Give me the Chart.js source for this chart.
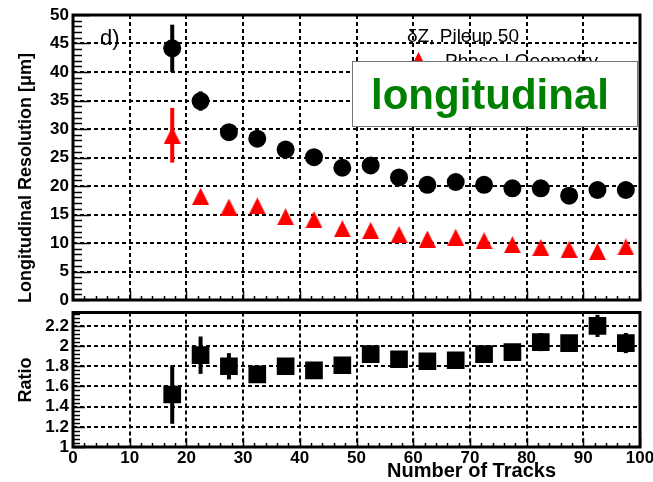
<!DOCTYPE html>
<html>
<head>
<meta charset="utf-8">
<script src="https://cdn.jsdelivr.net/npm/chart.js@4.4.0/dist/chart.umd.min.js"></script>
<style>
  html, body { margin: 0; padding: 0; background: #fff; }
  #wrap { position: relative; width: 653px; height: 482px; overflow: hidden; }
  canvas { position: absolute; left: 0; }
  #topChart { top: 0; }
  #ratioChart { top: 300px; }
</style>
</head>
<body>
<div id="wrap">
  <canvas id="topChart" width="653" height="310"></canvas>
  <canvas id="ratioChart" width="653" height="182"></canvas>
</div>
<script>
// bin centres (number of tracks)
const tracks = [17.5, 22.5, 27.5, 32.5, 37.5, 42.5, 47.5, 52.5, 57.5, 62.5, 67.5, 72.5, 77.5, 82.5, 87.5, 92.5, 97.5];

// dZ resolution, pileup 50 (black circles)
const resPileup50 = [44.15, 34.9, 29.45, 28.3, 26.4, 25.05, 23.2, 23.6, 21.5, 20.2, 20.7, 20.2, 19.6, 19.6, 18.3, 19.3, 19.3];
const resPileup50Err = [4.15, 1.7, 0.5, 0.5, 0.4, 0.4, 0.4, 0.4, 0.3, 0.3, 0.3, 0.3, 0.3, 0.3, 0.3, 0.3, 0.3];

// Phase I geometry (red triangles)
const resPhase1 = [28.9, 18.2, 16.3, 16.5, 14.6, 14.1, 12.5, 12.2, 11.5, 10.7, 11.0, 10.4, 9.7, 9.2, 8.9, 8.5, 9.3];
const resPhase1Err = [4.8, 0.4, 0.3, 0.3, 0.3, 0.3, 0.2, 0.2, 0.2, 0.2, 0.2, 0.2, 0.2, 0.2, 0.2, 0.2, 0.2];

// ratio (black squares)
const ratio = [1.52, 1.91, 1.80, 1.72, 1.80, 1.76, 1.81, 1.92, 1.87, 1.85, 1.86, 1.92, 1.94, 2.04, 2.03, 2.20, 2.03];
const ratioErr = [0.29, 0.185, 0.13, 0.05, 0.04, 0.04, 0.04, 0.04, 0.04, 0.04, 0.04, 0.05, 0.05, 0.09, 0.08, 0.11, 0.10];

// axes
const trackTicks = [0, 10, 20, 30, 40, 50, 60, 70, 80, 90, 100];
const resTicks = [0, 5, 10, 15, 20, 25, 30, 35, 40, 45, 50];
const ratioTicks = [1, 1.2, 1.4, 1.6, 1.8, 2, 2.2];
const ratioMax = 2.333;

const FONT = '"Liberation Sans", Arial, sans-serif';

// red triangle marker, centred on its bounding box like ROOT's
function triangleMarker(w, h, color) {
  const c = document.createElement('canvas');
  c.width = w; c.height = h;
  const g = c.getContext('2d');
  g.fillStyle = color;
  g.beginPath();
  g.moveTo(w / 2, 0);
  g.lineTo(w, h);
  g.lineTo(0, h);
  g.closePath();
  g.fill();
  return c;
}

function pts(vals) {
  return tracks.map((t, i) => ({ x: t, y: vals[i] }));
}

function fixSize(prop, size) {
  return scale => {
    scale[prop] = size;
    scale.paddingTop = 0; scale.paddingBottom = 0;
    scale.paddingLeft = 0; scale.paddingRight = 0;
  };
}

function setTicks(list) {
  return scale => { scale.ticks = list.map(v => ({ value: v })); };
}

// error bars, frame and minor ticks
const framePlugin = {
  id: 'frame',
  beforeDatasetsDraw(chart, args, opts) {
    const { ctx, scales: { x, y } } = chart;
    ctx.save();
    ctx.lineWidth = 4;
    opts.bars.forEach(b => {
      ctx.strokeStyle = b.color;
      tracks.forEach((t, i) => {
        const px = x.getPixelForValue(t);
        ctx.beginPath();
        ctx.moveTo(px, y.getPixelForValue(b.vals[i] - b.err[i]));
        ctx.lineTo(px, y.getPixelForValue(b.vals[i] + b.err[i]));
        ctx.stroke();
      });
    });
    ctx.restore();
  },
  afterDraw(chart, args, opts) {
    const { ctx, chartArea: a, scales: { x, y } } = chart;
    ctx.save();
    ctx.strokeStyle = '#000';
    ctx.lineWidth = 1.5;
    // y ticks on the left axis
    const ny = Math.round((y.max - y.min) / opts.yStep);
    for (let k = 0; k <= ny; k++) {
      const py = Math.round(y.getPixelForValue(y.min + k * opts.yStep)) + 0.5;
      const len = k % opts.yEvery === 0 ? opts.yMajor : opts.yMinor;
      ctx.beginPath();
      ctx.moveTo(a.left, py);
      ctx.lineTo(a.left + len, py);
      ctx.stroke();
    }
    // x ticks on the bottom axis
    for (let k = 0; k <= 50; k++) {
      const px = Math.round(x.getPixelForValue(k * 2)) + 0.5;
      const len = k % 5 === 0 ? 9 : 4;
      ctx.beginPath();
      ctx.moveTo(px, a.bottom);
      ctx.lineTo(px, a.bottom - len);
      ctx.stroke();
    }
    ctx.lineWidth = 3;
    ctx.strokeRect(a.left, a.top, a.right - a.left, a.bottom - a.top);
    ctx.restore();
    if (opts.labels) opts.labels(ctx, a);
  }
};

function topLabels(ctx, a) {
  ctx.save();
  ctx.fillStyle = '#000';
  ctx.font = '22px ' + FONT;
  ctx.textBaseline = 'alphabetic';
  ctx.fillText('d)', 100, 45);

  ctx.font = '19px ' + FONT;
  ctx.fillText('\u03b4Z, Pileup 50', 407, 42);
  ctx.drawImage(triangleMarker(15, 15, '#ff0000'), 411, 52);
  ctx.fillText('Phase I Geometry', 445, 67);

  ctx.fillStyle = '#fff';
  ctx.fillRect(352, 61, 286, 66);
  ctx.strokeStyle = '#777';
  ctx.lineWidth = 1;
  ctx.strokeRect(352.5, 61.5, 285, 65);
  ctx.fillStyle = '#008000';
  ctx.font = 'bold 42px ' + FONT;
  ctx.textAlign = 'center';
  ctx.fillText('longitudinal', 490, 109);

  ctx.fillStyle = '#000';
  ctx.font = 'bold 18px ' + FONT;
  ctx.translate(31, 178);
  ctx.rotate(-Math.PI / 2);
  ctx.textBaseline = 'alphabetic';
  ctx.fillText('Longitudinal Resolution [\u03bcm]', 0, 0);
  ctx.restore();
}

function ratioLabels(ctx, a) {
  ctx.save();
  ctx.fillStyle = '#000';
  ctx.font = 'bold 18px ' + FONT;
  ctx.textAlign = 'center';
  ctx.translate(31, 80);
  ctx.rotate(-Math.PI / 2);
  ctx.fillText('Ratio', 0, 0);
  ctx.restore();
  ctx.save();
  ctx.fillStyle = '#000';
  ctx.font = 'bold 20px ' + FONT;
  ctx.textAlign = 'right';
  ctx.fillText('Number of Tracks', 556, 177);
  ctx.restore();
}

const gridOpts = { color: '#000', lineWidth: 2, drawTicks: false };
const borderOpts = { display: false, dash: [4, 3] };
const tickFont = { family: FONT, size: 17, weight: 'bold' };

new Chart('topChart', {
  type: 'scatter',
  data: {
    datasets: [{
      label: '\u03b4Z, Pileup 50',
      data: pts(resPileup50),
      pointStyle: 'circle',
      pointRadius: 9,
      pointBorderWidth: 0,
      backgroundColor: '#000'
    }, {
      label: 'Phase I Geometry',
      data: pts(resPhase1),
      pointStyle: triangleMarker(17, 17, '#ff0000'),
      pointRadius: 9,
      backgroundColor: '#ff0000'
    }]
  },
  options: {
    responsive: false,
    animation: false,
    events: [],
    layout: { padding: { left: 0, right: 13, top: 15, bottom: 2 } },
    plugins: {
      legend: { display: false },
      tooltip: { enabled: false },
      frame: {
        yStep: 1, yEvery: 5, yMajor: 17, yMinor: 9,
        bars: [
          { vals: resPileup50, err: resPileup50Err, color: '#000' },
          { vals: resPhase1, err: resPhase1Err, color: '#ff0000' }
        ],
        labels: topLabels
      }
    },
    scales: {
      x: {
        type: 'linear', min: 0, max: 100,
        grid: gridOpts, border: borderOpts,
        ticks: { display: false, autoSkip: false },
        afterBuildTicks: setTicks(trackTicks),
        afterFit: fixSize('height', 0)
      },
      y: {
        type: 'linear', min: 0, max: 50,
        grid: gridOpts, border: borderOpts,
        ticks: { color: '#000', font: tickFont, padding: 4, autoSkip: false },
        afterBuildTicks: setTicks(resTicks),
        afterFit: fixSize('width', 73)
      }
    }
  },
  plugins: [framePlugin]
});

new Chart('ratioChart', {
  type: 'scatter',
  data: {
    datasets: [{
      label: 'Ratio',
      data: pts(ratio),
      pointStyle: 'rect',
      pointRadius: 12.5,
      pointBorderWidth: 0,
      backgroundColor: '#000'
    }]
  },
  options: {
    responsive: false,
    animation: false,
    events: [],
    layout: { padding: { left: 0, right: 13, top: 8, bottom: 0 } },
    plugins: {
      legend: { display: false },
      tooltip: { enabled: false },
      frame: {
        yStep: 0.04, yEvery: 5, yMajor: 12, yMinor: 7,
        bars: [{ vals: ratio, err: ratioErr, color: '#000' }],
        labels: ratioLabels
      }
    },
    scales: {
      x: {
        type: 'linear', min: 0, max: 100,
        grid: gridOpts, border: borderOpts,
        ticks: { color: '#000', font: tickFont, padding: 1, maxRotation: 0, autoSkip: false },
        afterBuildTicks: setTicks(trackTicks),
        afterFit: fixSize('height', 35)
      },
      y: {
        type: 'linear', min: 1, max: ratioMax,
        grid: gridOpts, border: borderOpts,
        ticks: {
          color: '#000', font: tickFont, padding: 4, autoSkip: false,
          callback: v => String(+v.toFixed(1))
        },
        afterBuildTicks: setTicks(ratioTicks),
        afterFit: fixSize('width', 73)
      }
    }
  },
  plugins: [framePlugin]
});
</script>
</body>
</html>
